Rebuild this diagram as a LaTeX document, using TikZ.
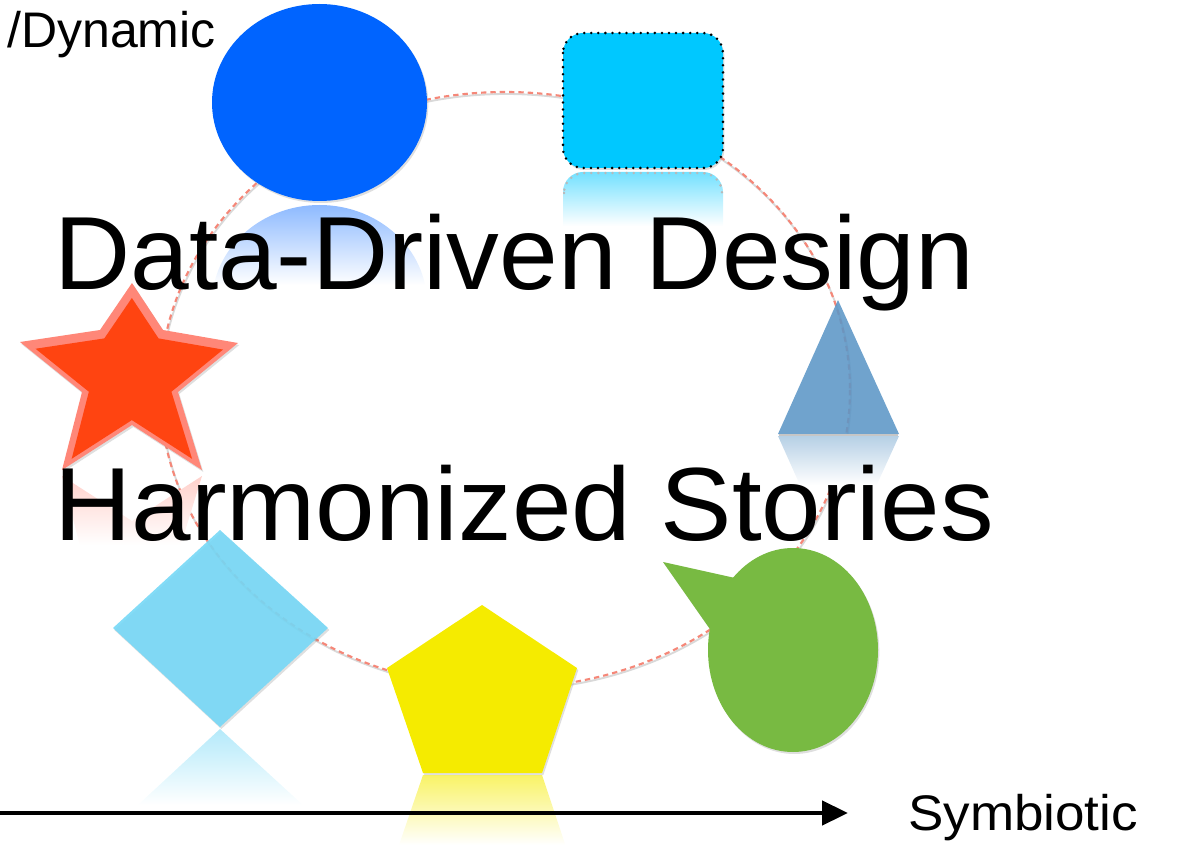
\documentclass[tikz,border=0pt]{standalone}
\usepackage{fontspec}
\setmainfont{Liberation Sans}
\usetikzlibrary{shadows,arrows.meta}

\definecolor{ringred}{RGB}{245,135,120}
\definecolor{blueE}{RGB}{0,100,255}
\definecolor{cyanR}{RGB}{0,200,255}
\definecolor{triBlue}{RGB}{92,150,198}
\definecolor{diamondC}{RGB}{118,216,246}
\definecolor{pentaY}{RGB}{245,235,0}
\definecolor{bubbleG}{RGB}{120,186,66}
\definecolor{starRed}{RGB}{255,68,17}
\definecolor{starPink}{RGB}{255,135,120}

% star outline relative to its centre (pixel units, y downwards)
\newcommand\starpath{(1,-107) -- (32,-60) -- (107,-47) -- (47,2) -- (71,80) -- (1,35) -- (-69,80) -- (-49,2) -- (-111,-48) -- (-31,-60) -- cycle}

\begin{document}
\begin{tikzpicture}[x=0.75pt,y=-0.75pt,
  shapeshadow/.style={drop shadow={opacity=0.25,shadow xshift=1pt,shadow yshift=-1.5pt}},
  bigtext/.style={inner sep=0pt,font=\fontsize{78}{90}\selectfont},
  axislabel/.style={inner sep=0pt,font=\fontsize{37.5}{45}\selectfont},
  ring/.style={ringred,line width=1.6pt,dash pattern=on 4pt off 3pt},
  dotborder/.style={line width=2.1pt,line cap=round,dash pattern=on 0pt off 5.3pt}]
\useasboundingbox (0,0) rectangle (1185,848);

% dashed ring with a faint shadow
\draw[gray!30,line width=1.4pt] (506,392) ellipse [x radius=345, y radius=298];
\draw[ring] (505,390) ellipse [x radius=345, y radius=298];

% ---- reflections ----
\begin{scope}
  \clip (319.5,303.5) ellipse [x radius=107.5, y radius=98.5];
  \shade[top color=blueE!45!white, bottom color=white] (210,204) rectangle (430,285);
\end{scope}
\begin{scope}
  \clip[rounded corners=15pt] (563,172) rectangle (723,307);
  \shade[top color=cyanR!55!white, bottom color=white] (560,172) rectangle (726,226);
  \clip (550,160) rectangle (740,196);
  \draw[gray!55,dotborder,rounded corners=15pt] (564,173) rectangle (722,306);
\end{scope}
\begin{scope}
  \clip (778,436) -- (899,436) -- (838,570) -- cycle;
  \shade[top color=triBlue!45!white, bottom color=white] (775,436) rectangle (902,485);
\end{scope}
\begin{scope}
  \clip[shift={(131,556)},yscale=-1] \starpath;
  \shade[top color=starPink!40!white, bottom color=white] (15,474) rectangle (245,545);
\end{scope}
\begin{scope}
  \clip (220,729) -- (328,828) -- (113,828) -- cycle;
  \shade[top color=diamondC!55!white, bottom color=white] (110,729) rectangle (330,805);
\end{scope}
\begin{scope}
  \clip (423,775) -- (542,775) -- (577,880) -- (387,880) -- cycle;
  \shade[top color=pentaY!60!white, bottom color=white] (385,775) rectangle (580,845);
\end{scope}

% ---- shapes ----
\fill[blueE,shapeshadow] (319.5,102.5) ellipse [x radius=107.5, y radius=98.5];

\filldraw[fill=cyanR,draw=black,dotborder,rounded corners=15pt,shapeshadow]
  (563,33) rectangle (723,168);

\fill[triBlue,fill opacity=0.88] (838,300) -- (899,434) -- (778,434) -- cycle;
\draw[gray!45,line width=1pt] (779,435) -- (898,435);

\begin{scope}[shift={(131,390)}]
  \fill[starPink,shapeshadow] \starpath;
  \fill[starRed,scale=0.86] \starpath;
\end{scope}

\fill[diamondC,fill opacity=0.9,shapeshadow] (220,530) -- (328,628) -- (220,727) -- (113,628) -- cycle;

\fill[pentaY,shapeshadow] (482,605) -- (577,668) -- (542,773) -- (423,773) -- (387,668) -- cycle;

\fill[bubbleG,shapeshadow] (735,578) -- (663,562) -- (712,632) -- (760,610) -- cycle;
\fill[bubbleG,shapeshadow] (793,650) ellipse [x radius=85, y radius=102];

% ---- titles ----
\node[bigtext,anchor=base west] (ddd) at (54,290) {\scalebox{1.014}[1]{Data-Driven Design}};
\node[bigtext,anchor=base west] (hs) at (54,540) {\scalebox{1.029}[1]{Harmonized Stories}};

% ---- axis ----
\coordinate (axisstart) at (-5,813);
\coordinate (axisend) at (848,813);
\draw[line width=3.4pt,-{Triangle[length=19.5pt,width=18pt]}] (axisstart) -- (axisend);
\node[axislabel,anchor=base west] (sym) at (908,830) {\scalebox{1.06}[1]{Symbiotic}};
\node[axislabel,anchor=base east] (dyn) at (216,48) {/Dynamic};
\end{tikzpicture}
\end{document}
